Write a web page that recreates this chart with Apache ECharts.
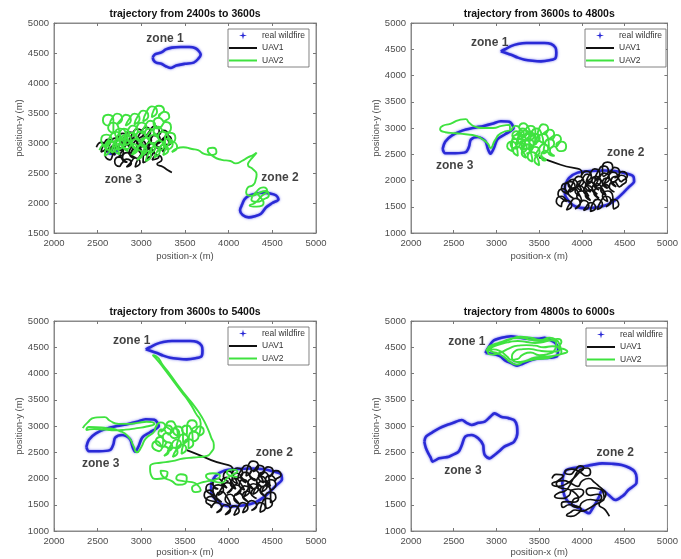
<!DOCTYPE html>
<html><head><meta charset="utf-8">
<script src="https://cdn.jsdelivr.net/npm/echarts@6/dist/echarts.min.js"></script>
<style>html,body{margin:0;padding:0;background:#fff}#c{width:681px;height:559px}</style>
</head><body><div id="c"></div>
<script>
// ---------- DATA ----------
const titles = ['trajectory from 2400s to 3600s','trajectory from 3600s to 4800s','trajectory from 3600s to 5400s','trajectory from 4800s to 6000s'];
const yMins = [1500, 1000, 1000, 1000];
const xMin = 2000, xMax = 5000, yMax = 5000, tickStep = 500;
const legendNames = ['real wildfire', 'UAV1', 'UAV2'];
const zoneNames = ['zone 1', 'zone 2', 'zone 3'];

// zone label anchor positions (data coords) per panel
const zoneLabelsA = [[3271,4734],[4588,2417],[2794,2389]];
const zoneLabelsB = [[2920,4632],[4512,2536],[2511,2289]];
const zoneLabelsC = [[2889,4625],[4523,2492],[2534,2289]];
const zoneLabelsD = [[2653,4606],[4390,2492],[2607,2143]];

// wildfire boundaries
const fireA1 = [[3130,4430],[3160,4480],[3230,4510],[3280,4560],[3350,4590],[3450,4600],[3550,4600],[3620,4580],[3660,4530],[3680,4470],[3650,4400],[3600,4340],[3500,4320],[3400,4290],[3340,4250],[3280,4280],[3230,4320],[3170,4340],[3140,4380],[3130,4430]];
const fireA2 = [[4150,1960],[4130,1880],[4160,1800],[4230,1760],[4300,1780],[4370,1820],[4430,1930],[4500,2000],[4570,2060],[4540,2130],[4470,2160],[4390,2170],[4300,2150],[4230,2120],[4180,2060],[4150,1960]];
const fireA3 = [[2620,2830],[2650,2900],[2700,2920],[2720,2870],[2680,2820],[2620,2830]];

const fireB1 = [[3050,4460],[3100,4500],[3170,4560],[3250,4600],[3350,4620],[3450,4620],[3560,4620],[3640,4600],[3690,4530],[3700,4440],[3690,4330],[3620,4290],[3520,4270],[3420,4280],[3330,4300],[3250,4340],[3180,4390],[3110,4430],[3050,4460]];
const fireB2 = [[3800,1900],[3850,2050],[3950,2150],[4100,2180],[4250,2190],[4380,2180],[4500,2140],[4600,2080],[4610,1980],[4550,1880],[4480,1760],[4400,1640],[4300,1540],[4180,1490],[4050,1470],[3930,1500],[3850,1600],[3800,1750],[3800,1900]];
const fireB3 = [[2370,2600],[2400,2520],[2520,2520],[2640,2540],[2680,2650],[2700,2780],[2780,2830],[2870,2750],[2900,2600],[2930,2510],[2970,2620],[3010,2780],[3100,2880],[3200,3000],[3150,3120],[3050,3130],[2950,3080],[2850,3040],[2720,3000],[2600,2950],[2480,2860],[2400,2740],[2370,2600]];

const fireD1 = [[2870,4390],[2900,4480],[2960,4620],[3060,4680],[3170,4710],[3280,4680],[3400,4660],[3500,4660],[3560,4680],[3640,4630],[3690,4580],[3720,4480],[3710,4330],[3620,4300],[3500,4290],[3400,4250],[3300,4180],[3240,4150],[3170,4200],[3110,4240],[3040,4330],[2960,4370],[2870,4390]];
const fireD2 = [[3779,2035],[3817,2162],[3900,2200],[4008,2225],[4120,2260],[4237,2289],[4350,2280],[4466,2257],[4560,2200],[4618,2130],[4640,2010],[4637,1908],[4590,1840],[4542,1781],[4500,1700],[4466,1654],[4390,1590],[4313,1686],[4237,1781],[4200,1650],[4160,1527],[4120,1420],[4084,1337],[4008,1400],[3930,1460],[3855,1527],[3800,1650],[3779,1781],[3770,1900],[3779,2035]];
const fireD3 = [[2156,2702],[2175,2797],[2250,2880],[2328,2956],[2420,3020],[2481,3051],[2595,3114],[2650,3060],[2710,3019],[2790,3060],[2863,3083],[2930,3180],[2977,3241],[3053,3178],[3140,3150],[3206,3114],[3240,3000],[3244,2860],[3206,2702],[3150,2650],[3092,2606],[3030,2520],[2977,2448],[2920,2384],[2863,2448],[2850,2540],[2844,2638],[2786,2765],[2710,2829],[2634,2797],[2595,2638],[2557,2511],[2500,2460],[2443,2416],[2328,2384],[2252,2321],[2230,2400],[2213,2448],[2175,2575],[2156,2702]];

// UAV trajectories
const uav1A = [[2485,2930],[2540,3010],[2595,2930],[2540,2850],[2565,2960],[2620,3060],[2695,2960],[2620,2880],[2645,3000],[2700,3080],[2755,3000],[2700,2920],[2725,3060],[2790,3160],[2835,3060],[2780,2980],[2805,3100],[2860,3180],[2915,3100],[2860,3020],[2895,3150],[2950,3230],[3025,3150],[2950,3070],[2995,3180],[3050,3260],[3105,3180],[3050,3100],[3095,3200],[3150,3280],[3205,3200],[3150,3120],[3195,3130],[3250,3210],[3305,3130],[3250,3050],[3235,3040],[3300,3120],[3345,3040],[3290,2960],[3285,2960],[3230,3040],[3175,2960],[3230,2880],[3195,2920],[3140,3000],[3085,2920],[3140,2840],[3095,2880],[3040,2960],[2985,2880],[3040,2800],[2995,2830],[2940,2910],[2885,2830],[2940,2750],[2895,2760],[2840,2840],[2785,2760],[2840,2680],[2805,2690],[2750,2770],[2695,2690],[2750,2610],[2775,2660],[2830,2730],[2885,2660],[2830,2600],[2875,2670],[2930,2750],[2985,2670],[2930,2600],[2965,2740],[3020,2820],[3075,2740],[3020,2670],[3025,2840],[3080,2920],[3135,2840],[3080,2760],[3055,2960],[3000,3040],[2945,2960],[3000,2880],[2955,3000],[2900,3080],[2845,3000],[2900,2920],[2855,2950],[2800,3030],[2745,2950],[2800,2870],[2755,2880],[2700,2960],[2645,2880],[2700,2800],[2695,2800],[2640,2880],[2585,2800],[2640,2720],[2685,2840],[2740,2920],[2795,2840],[2740,2760],[2795,2900],[2850,2980],[2905,2900],[2850,2820],[2905,2980],[2960,3060],[3015,2980],[2960,2900],[3005,3040],[3060,3120],[3115,3040],[3060,2960],[3105,3060],[3160,3140],[3215,3060],[3160,2980],[3205,3000],[3260,3080],[3315,3000],[3260,2920],[3255,2850],[3200,2930],[3145,2850],[3200,2770],[3125,2720],[3180,2800],[3235,2720],[3180,2650],[3250,2600],[3300,2550],[3350,2510]];
const uav2A = [[2520,2880],[2580,2970],[2640,2880],[2580,2790],[2600,2930],[2660,3020],[2720,2930],[2660,2840],[2680,2980],[2740,3070],[2800,2980],[2740,2890],[2760,3050],[2820,3140],[2880,3050],[2820,2960],[2820,3150],[2760,3240],[2700,3150],[2760,3060],[2740,3250],[2680,3340],[2620,3250],[2680,3160],[2680,3380],[2620,3470],[2560,3380],[2620,3290],[2660,3400],[2720,3490],[2780,3400],[2720,3310],[2760,3380],[2820,3470],[2880,3380],[2820,3290],[2860,3400],[2920,3490],[2980,3400],[2920,3310],[2960,3450],[3020,3540],[3080,3450],[3020,3360],[3060,3520],[3120,3610],[3180,3520],[3120,3430],[3140,3540],[3200,3620],[3260,3540],[3200,3450],[3200,3430],[3260,3520],[3320,3430],[3260,3340],[3260,3330],[3200,3420],[3140,3330],[3200,3240],[3220,3260],[3280,3350],[3340,3260],[3280,3170],[3260,3180],[3200,3270],[3140,3180],[3200,3090],[3160,3150],[3100,3240],[3040,3150],[3100,3060],[3060,3100],[3000,3190],[2940,3100],[3000,3010],[2960,3080],[2900,3170],[2840,3080],[2900,2990],[2880,3000],[2820,3090],[2760,3000],[2820,2910],[2840,2900],[2900,2990],[2960,2900],[2900,2810],[2940,2880],[3000,2970],[3060,2880],[3000,2790],[3040,2920],[3100,3010],[3160,2920],[3100,2830],[3140,2950],[3200,3040],[3260,2950],[3200,2860],[3240,2980],[3300,3070],[3360,2980],[3300,2890],[3270,3080],[3330,3170],[3390,3080],[3330,2990],[3310,3100],[3250,3190],[3190,3100],[3250,3010],[3210,3050],[3150,3140],[3090,3050],[3150,2960],[3110,3000],[3050,3090],[2990,3000],[3050,2910],[3010,2980],[2950,3070],[2890,2980],[2950,2890],[2910,2950],[2850,3040],[2790,2950],[2850,2860],[2810,2900],[2750,2990],[2690,2900],[2750,2810],[2710,2950],[2650,3040],[2590,2950],[2650,2860],[2540,3050],[2600,3140],[2660,3050],[2600,2960],[2640,3100],[2700,3190],[2760,3100],[2700,3010],[2740,3150],[2800,3240],[2860,3150],[2800,3060],[2840,3200],[2900,3290],[2960,3200],[2900,3110],[2940,3250],[3000,3340],[3060,3250],[3000,3160],[3040,3280],[3100,3370],[3160,3280],[3100,3190],[2890,2800],[2950,2890],[3010,2800],[2950,2720],[2990,2780],[3050,2870],[3110,2780],[3050,2700],[3090,2850],[3150,2940],[3210,2850],[3150,2760],[3190,2880],[3250,2970],[3310,2880],[3250,2800],[3290,2930],[3350,3020],[3410,2930],[3350,2850],[3480,2930],[3580,2900],[3650,2880],[3720,2820],[3800,2800],[3860,2850],[3820,2920],[3760,2880],[3820,2780],[3920,2720],[4020,2700],[4080,2660],[4150,2700],[4220,2760],[4280,2800],[4320,2840],[4300,2800],[4240,2700],[4220,2640],[4280,2560],[4320,2480],[4310,2390],[4280,2300],[4220,2260],[4200,2180],[4260,2120],[4340,2160],[4420,2200],[4460,2130],[4400,2060],[4320,2020],[4260,2060],[4300,2160],[4400,2260],[4440,2200],[4380,2120],[4300,2000],[4240,1960],[4320,1940],[4400,2000],[4360,2100],[4300,2180]];

const uav1B = [[3500,2440],[3750,2300],[4000,2150],[3990,2080],[4050,2180],[4110,2080],[4050,1980],[4090,2120],[4150,2220],[4210,2120],[4150,2020],[4190,2180],[4250,2280],[4310,2180],[4250,2080],[4240,2250],[4300,2350],[4360,2250],[4300,2150],[4320,2150],[4380,2250],[4440,2150],[4380,2050],[4410,2080],[4470,2170],[4530,2080],[4470,1990],[4460,1980],[4400,2080],[4340,1980],[4400,1880],[4360,1950],[4300,2050],[4240,1950],[4300,1850],[4260,1920],[4200,2020],[4140,1920],[4200,1820],[4160,1880],[4100,1980],[4040,1880],[4100,1780],[4060,1900],[4000,2000],[3940,1900],[4000,1800],[3960,1920],[3900,2020],[3840,1920],[3900,1820],[3880,1850],[3820,1950],[3760,1850],[3820,1750],[3840,1740],[3780,1840],[3720,1740],[3780,1640],[3820,1600],[3760,1700],[3700,1600],[3760,1500],[3760,1520],[3820,1620],[3880,1520],[3820,1440],[3860,1560],[3920,1660],[3980,1560],[3920,1460],[3960,1520],[4020,1620],[4080,1520],[4020,1430],[4040,1480],[4100,1580],[4160,1480],[4100,1410],[4120,1540],[4180,1640],[4240,1540],[4180,1450],[4220,1600],[4280,1700],[4340,1600],[4280,1500],[4310,1540],[4370,1640],[4430,1540],[4370,1460],[4360,1700],[4300,1800],[4240,1700],[4300,1600],[4260,1760],[4200,1860],[4140,1760],[4200,1660],[4160,1720],[4100,1820],[4040,1720],[4100,1620],[4060,1700],[4000,1800],[3940,1700],[4000,1600],[3960,1760],[3900,1860],[3840,1760],[3900,1660],[3800,1880],[3860,1980],[3920,1880],[3860,1780],[3900,1980],[3960,2080],[4020,1980],[3960,1880],[4000,2020],[4060,2120],[4120,2020],[4060,1920],[4100,1980],[4160,2080],[4220,1980],[4160,1880],[4200,2040],[4260,2140],[4320,2040],[4260,1940],[4300,2060],[4360,2160],[4420,2060],[4360,1960],[4400,2000],[4460,2100],[4520,2000],[4460,1900],[4440,1880],[4380,1980],[4320,1880],[4380,1780],[4340,1820],[4280,1920],[4220,1820],[4280,1720],[4240,1840],[4180,1940],[4120,1840],[4180,1740],[4140,1800],[4080,1900],[4020,1800],[4080,1700],[4040,1800],[3980,1900],[3920,1800],[3980,1700]];
const uav2B = [[3150,2950],[3050,2900],[2980,2760],[2930,2620],[2900,2700],[2840,2780],[2760,2850],[2640,2880],[2520,2900],[2400,2920],[2340,2980],[2370,3040],[2460,3080],[2560,3150],[2640,3170],[2680,3100],[2760,3020],[2850,3000],[2960,3000],[3060,3040],[3150,3060],[3165,2950],[3220,3040],[3275,2950],[3220,2860],[3245,2900],[3300,2990],[3355,2900],[3300,2810],[3325,2850],[3380,2940],[3435,2850],[3380,2760],[3355,2780],[3300,2870],[3245,2780],[3300,2690],[3275,2700],[3220,2790],[3165,2700],[3220,2610],[3245,2620],[3300,2710],[3355,2620],[3300,2530],[3325,2700],[3380,2790],[3435,2700],[3380,2610],[3395,2800],[3450,2890],[3505,2800],[3450,2710],[3455,2950],[3400,3040],[3345,2950],[3400,2860],[3375,3000],[3320,3090],[3265,3000],[3320,2910],[3295,2850],[3240,2940],[3185,2850],[3240,2760],[3225,2700],[3280,2790],[3335,2700],[3280,2610],[3295,2600],[3350,2690],[3405,2600],[3350,2510],[3395,2550],[3450,2640],[3505,2550],[3450,2460],[3495,2600],[3550,2690],[3605,2600],[3550,2510],[3565,2700],[3620,2790],[3675,2700],[3620,2610],[3605,2800],[3550,2890],[3495,2800],[3550,2710],[3525,2900],[3470,2990],[3415,2900],[3470,2810],[3495,2980],[3550,3070],[3605,2980],[3550,2890],[3565,2880],[3620,2970],[3675,2880],[3620,2790],[3645,2780],[3700,2870],[3755,2780],[3700,2690],[3705,2650],[3760,2740],[3815,2650],[3760,2560],[3735,2560],[3680,2650],[3625,2560],[3680,2470],[3635,2480],[3580,2570],[3525,2480],[3580,2390],[3555,2380],[3500,2470],[3445,2380],[3500,2290],[3475,2450],[3420,2540],[3365,2450],[3420,2360],[3405,2520],[3350,2610],[3295,2520],[3350,2430],[3305,2560],[3250,2650],[3195,2560],[3250,2470],[3235,2650],[3180,2740],[3125,2650],[3180,2560],[3185,2780],[3240,2870],[3295,2780],[3240,2690],[3275,2860],[3330,2950],[3385,2860],[3330,2770],[3365,2760],[3420,2850],[3475,2760],[3420,2670],[3405,2680],[3350,2770],[3295,2680],[3350,2590]];

const uav1C = [[3520,2540],[3800,2350],[4050,2160],[4040,2100],[4100,2200],[4160,2100],[4100,2000],[4140,2150],[4200,2250],[4260,2150],[4200,2050],[4220,2230],[4280,2330],[4340,2230],[4280,2130],[4290,2150],[4350,2250],[4410,2150],[4350,2050],[4390,2120],[4450,2220],[4510,2120],[4450,2020],[4480,2060],[4540,2150],[4600,2060],[4540,1970],[4540,1960],[4480,2060],[4420,1960],[4480,1860],[4440,1940],[4380,2040],[4320,1940],[4380,1840],[4340,1900],[4280,2000],[4220,1900],[4280,1800],[4240,1880],[4180,1980],[4120,1880],[4180,1780],[4140,1900],[4080,2000],[4020,1900],[4080,1800],[4040,1920],[3980,2020],[3920,1920],[3980,1820],[3940,1900],[3880,2000],[3820,1900],[3880,1800],[3860,1800],[3800,1900],[3740,1800],[3800,1700],[3840,1680],[3780,1780],[3720,1680],[3780,1580],[3860,1560],[3800,1660],[3740,1560],[3800,1460],[3800,1440],[3860,1540],[3920,1440],[3860,1350],[3900,1400],[3960,1500],[4020,1400],[3960,1310],[4000,1380],[4060,1480],[4120,1380],[4060,1300],[4100,1440],[4160,1540],[4220,1440],[4160,1350],[4200,1480],[4260,1580],[4320,1480],[4260,1390],[4300,1440],[4360,1540],[4420,1440],[4360,1360],[4380,1520],[4440,1620],[4500,1520],[4440,1430],[4420,1640],[4480,1740],[4540,1640],[4480,1540],[4480,1760],[4420,1860],[4360,1760],[4420,1660],[4380,1720],[4320,1820],[4260,1720],[4320,1620],[4280,1660],[4220,1760],[4160,1660],[4220,1560],[4180,1620],[4120,1720],[4060,1620],[4120,1520],[4080,1600],[4020,1700],[3960,1600],[4020,1500],[3980,1650],[3920,1750],[3860,1650],[3920,1550],[3820,1780],[3880,1880],[3940,1780],[3880,1680],[3920,1820],[3980,1920],[4040,1820],[3980,1720],[4020,1780],[4080,1880],[4140,1780],[4080,1680],[4120,1760],[4180,1860],[4240,1760],[4180,1660],[4220,1800],[4280,1900],[4340,1800],[4280,1700],[4320,1850],[4380,1950],[4440,1850],[4380,1750],[4420,1880],[4480,1980],[4540,1880],[4480,1780],[4460,2020],[4400,2120],[4340,2020],[4400,1920],[4360,2060],[4300,2160],[4240,2060],[4300,1960],[4260,2020],[4200,2120],[4140,2020],[4200,1920],[4160,2000],[4100,2100],[4040,2000],[4100,1900],[4060,2040],[4000,2140],[3940,2040],[4000,1940]];
const uav2C = [[2330,2960],[2380,3060],[2470,3160],[2580,3170],[2640,3100],[2740,3040],[2860,3040],[2960,3060],[3060,3080],[3150,3040],[3060,2990],[2950,2960],[2820,2930],[2700,2920],[2580,2930],[2460,2940],[2370,2920],[2400,2980],[2600,2960],[2760,2900],[2860,2780],[2910,2620],[2950,2500],[3000,2600],[3050,2760],[3150,2900],[3165,2980],[3220,3070],[3275,2980],[3220,2890],[3245,2920],[3300,3010],[3355,2920],[3300,2830],[3325,2860],[3380,2950],[3435,2860],[3380,2770],[3355,2780],[3300,2870],[3245,2780],[3300,2690],[3275,2700],[3220,2790],[3165,2700],[3220,2610],[3245,2600],[3300,2690],[3355,2600],[3300,2510],[3345,2650],[3400,2740],[3455,2650],[3400,2560],[3425,2750],[3480,2840],[3535,2750],[3480,2660],[3475,2900],[3420,2990],[3365,2900],[3420,2810],[3395,3000],[3340,3090],[3285,3000],[3340,2910],[3305,2850],[3250,2940],[3195,2850],[3250,2760],[3235,2620],[3180,2710],[3125,2620],[3180,2530],[3205,2520],[3260,2610],[3315,2520],[3260,2430],[3305,2500],[3360,2590],[3415,2500],[3360,2410],[3405,2560],[3460,2650],[3515,2560],[3460,2470],[3485,2660],[3540,2750],[3595,2660],[3540,2570],[3545,2800],[3600,2890],[3655,2800],[3600,2710],[3575,2920],[3520,3010],[3465,2920],[3520,2830],[3525,3020],[3580,3110],[3635,3020],[3580,2930],[3605,2900],[3660,2990],[3715,2900],[3660,2810],[3680,3050],[3620,3250],[3550,3450],[3460,3650],[3370,3850],[3280,4050],[3200,4220],[3130,4350],[3170,4330],[3250,4150],[3330,3980],[3430,3750],[3520,3560],[3620,3350],[3700,3150],[3760,2950],[3800,2780],[3830,2640],[3800,2500],[3720,2420],[3600,2400],[3480,2380],[3350,2330],[3220,2300],[3130,2280],[3100,2180],[3110,2070],[3180,1990],[3280,2020],[3300,2120],[3220,2150],[3240,2050],[3350,1950],[3420,1880],[3500,1900],[3520,2020],[3450,2080],[3400,2000],[3480,1950],[3580,1930],[3640,1880],[3680,1780],[3620,1740],[3580,1820],[3650,1900],[3760,1950],[3850,1980],[3900,2050],[3820,2100],[3740,2050],[3820,1950],[3920,1920],[3980,2000],[4050,2080],[4100,2130],[4050,2170],[3980,2120],[4020,2050],[4100,2030]];

const uav1D = [[3650,2000],[3700,2080],[3780,2050],[3720,1960],[3650,1900],[3720,1850],[3820,1900],[3900,2000],[3960,2100],[4020,2200],[3980,2240],[3920,2160],[3860,2080],[3800,2120],[3880,2180],[3980,2120],[4050,2050],[4100,2120],[4060,2200],[3980,2170],[3900,2000],[3850,1850],[3800,1760],[3720,1720],[3680,1660],[3760,1620],[3850,1680],[3880,1780],[3960,1800],[4020,1740],[3980,1650],[3900,1600],[3880,1500],[3960,1450],[4000,1540],[4100,1600],[4180,1580],[4230,1640],[4180,1700],[4100,1680],[4050,1760],[4120,1820],[4200,1800],[4250,1720],[4260,1620],[4220,1560],[4150,1500],[4080,1430],[4000,1380],[3920,1400],[3860,1350],[3820,1300],[3870,1280],[3950,1330],[3990,1420],[3920,1480],[3850,1500],[3780,1450],[3760,1520],[3830,1560],[3900,1550],[3960,1620],[3920,1720],[3830,1800],[3750,1820],[3700,1900],[3780,1960],[3880,1900],[3950,1850],[4000,1950],[4080,2000],[4150,1920],[4200,1850],[4250,1780],[4280,1700],[4250,1600],[4200,1500],[4260,1420],[4300,1340],[4320,1280]];
const uav2D = [[2880,4420],[2950,4500],[3050,4560],[3150,4600],[3250,4620],[3350,4600],[3450,4580],[3550,4600],[3650,4640],[3720,4660],[3760,4600],[3720,4500],[3800,4460],[3830,4420],[3780,4380],[3700,4350],[3620,4300],[3520,4280],[3420,4260],[3320,4220],[3240,4170],[3160,4220],[3100,4300],[3020,4380],[2940,4420],[2900,4480],[2960,4550],[3060,4600],[3160,4660],[3280,4680],[3400,4640],[3500,4620],[3600,4640],[3680,4620],[3700,4560],[3680,4450],[3620,4380],[3500,4350],[3400,4400],[3300,4350],[3250,4280],[3180,4260],[3120,4330],[3050,4420],[2960,4460],[2900,4400],[2950,4360],[3050,4400],[3150,4480],[3250,4530],[3350,4540],[3450,4530],[3550,4500],[3650,4520],[3740,4480],[3700,4420],[3600,4420],[3480,4440],[3380,4470],[3280,4460],[3200,4400],[3180,4320],[3240,4220],[3340,4240],[3440,4300],[3560,4320],[3680,4340],[3760,4410],[3740,4540],[3700,4640],[3620,4680],[3520,4640],[3400,4680],[3280,4700],[3150,4640],[3020,4570],[2920,4500],[2880,4440]];

// ---------- PANEL ASSEMBLY ----------
const panels = [
  {fires:[fireA1,fireA2,fireA3], uav1:uav1A, uav2:uav2A, zones:zoneLabelsA},
  {fires:[fireB1,fireB2,fireB3], uav1:uav1B, uav2:uav2B, zones:zoneLabelsB},
  {fires:[fireB1,fireB2,fireB3], uav1:uav1C, uav2:uav2C, zones:zoneLabelsC},
  {fires:[fireD1,fireD2,fireD3], uav1:uav1D, uav2:uav2D, zones:zoneLabelsD}
];
const layout = [
  {grid:[54,23], legend:[228,29], nameGap:18},
  {grid:[411,23], legend:[585,29], nameGap:18},
  {grid:[54,321], legend:[228,327], nameGap:16},
  {grid:[411,321], legend:[586,328], nameGap:16}
];
const FONT = '"Liberation Sans", Arial, Helvetica, sans-serif';
const axisGray = '#8a8a8a', labelGray = '#4d4d4d';
const blue = '#2a2ad6', black = '#111111', green = '#3fe23f';
const grid = [], xAxis = [], yAxis = [], series = [], legend = [];
const plain = v => String(v);
panels.forEach((p, i) => {
  const L = layout[i];
  grid.push({left:L.grid[0], top:L.grid[1], width:262, height:210, show:true, borderColor:axisGray, borderWidth:1, containLabel:false});
  const common = {gridIndex:i, splitLine:{show:false}, axisLine:{show:true, lineStyle:{color:axisGray}}, axisTick:{inside:true, length:3, lineStyle:{color:'#777'}}};
  xAxis.push(Object.assign({}, common, {type:'value', position:'bottom', min:xMin, max:xMax, interval:tickStep,
    axisLabel:{color:labelGray, fontSize:9.5, fontFamily:FONT, margin:5, formatter:plain},
    name:'position-x (m)', nameLocation:'middle', nameGap:L.nameGap, nameTextStyle:{color:labelGray, fontSize:9.5, fontFamily:FONT}}));
  xAxis.push(Object.assign({}, common, {type:'value', position:'top', min:xMin, max:xMax, interval:tickStep, axisLabel:{show:false},
    name:titles[i], nameLocation:'middle', nameGap:3, nameTextStyle:{color:'#111', fontSize:10.5, fontWeight:'bold', fontFamily:FONT}}));
  yAxis.push(Object.assign({}, common, {type:'value', position:'left', min:yMins[i], max:yMax, interval:tickStep,
    axisLabel:{color:labelGray, fontSize:9.5, fontFamily:FONT, margin:5, formatter:plain},
    name:'position-y (m)', nameLocation:'middle', nameGap:29, nameRotate:90, nameTextStyle:{color:labelGray, fontSize:9.5, fontFamily:FONT}}));
  yAxis.push(Object.assign({}, common, {type:'value', position:'right', min:yMins[i], max:yMax, interval:tickStep, axisLabel:{show:false}}));
  const xi = 2*i, yi = 2*i;
  p.fires.forEach(f => series.push({name:'real wildfire', type:'line', xAxisIndex:xi, yAxisIndex:yi, data:f, smooth:0.3, symbol:'none',
    color:blue, lineStyle:{color:blue, width:2.6, shadowColor:'rgba(70,70,235,0.8)', shadowBlur:2.5}, z:2}));
  series.push({name:'UAV1', type:'line', xAxisIndex:xi, yAxisIndex:yi, data:p.uav1, smooth:0.6, symbol:'none',
    color:black, lineStyle:{color:black, width:1.7}, z:3});
  series.push({name:'UAV2', type:'line', xAxisIndex:xi, yAxisIndex:yi, data:p.uav2, smooth:0.6, symbol:'none',
    color:green, lineStyle:{color:green, width:1.9}, z:4});
  series.push({name:'zones'+i, type:'scatter', xAxisIndex:xi, yAxisIndex:yi, symbolSize:0, silent:true, z:6,
    data:p.zones.map((c, k) => ({name:zoneNames[k], value:c})),
    label:{show:true, position:'inside', formatter:'{b}', color:'#111', fontSize:12, fontWeight:'bold', fontFamily:FONT}});
  legend.push({left:L.legend[0], top:L.legend[1], orient:'vertical', itemWidth:28, itemHeight:8, itemGap:3.5,
    padding:[2,4,2,1], backgroundColor:'#fff', borderColor:'#666', borderWidth:0.8, selectedMode:false,
    textStyle:{fontSize:8.5, color:'#333', fontFamily:FONT},
    data:[{name:legendNames[0], icon:'path://M5,0L6,4L10,5L6,6L5,10L4,6L0,5L4,4Z'},
          {name:legendNames[1], icon:'path://M0,0L28,0L28,2L0,2Z'},
          {name:legendNames[2], icon:'path://M0,0L28,0L28,2L0,2Z'}]});
});
const chart = echarts.init(document.getElementById('c'), null, {renderer:'canvas'});
chart.setOption({animation:false, backgroundColor:'#fff', grid, xAxis, yAxis, series, legend});
</script></body></html>
